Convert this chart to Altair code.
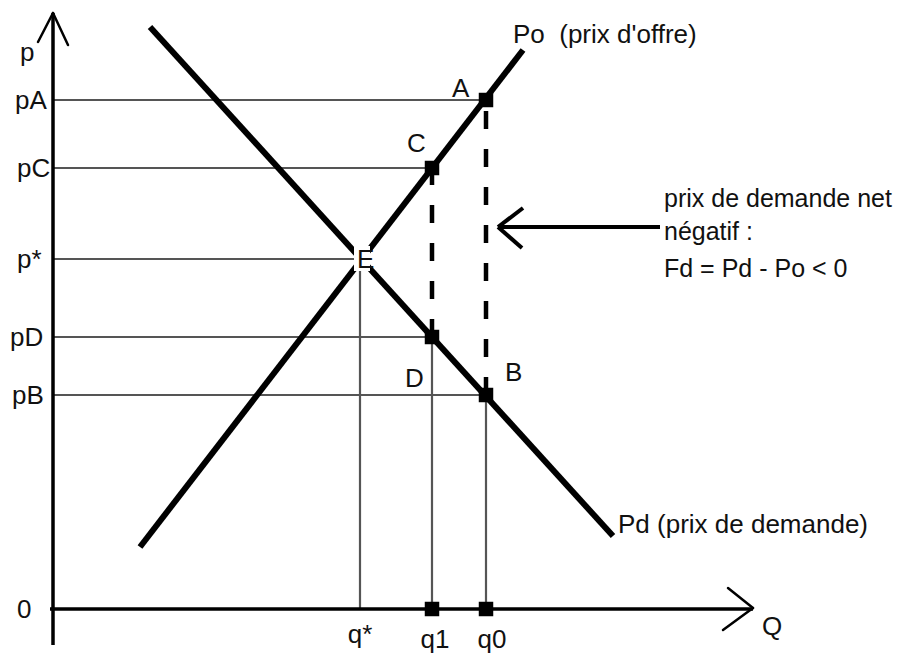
import altair as alt
import pandas as pd

# ---- data ----
# supply curve Po (prix d'offre) and demand curve Pd (prix de demande): endpoints
supply_q = [8.7, 47.0]
supply_p = [6.2, 55.9]
demand_q = [9.7, 56.0]
demand_p = [58.2, 7.3]

# named points
point_names = ["E", "A", "C", "D", "B"]
point_q = [30.7, 43.3, 37.9, 37.9, 43.3]
point_p = [35.0, 50.9, 44.1, 27.2, 21.4]

# price levels (horizontal guides) and their end quantity
price_labels = ["pA", "pC", "p*", "pD", "pB"]
price_values = [50.9, 44.1, 35.0, 27.2, 21.4]
price_end_q = [43.3, 37.9, 30.7, 37.9, 43.3]

# quantity levels (vertical guides) and their top price
qty_labels = ["q*", "q1", "q0"]
qty_values = [30.7, 37.9, 43.3]
qty_top_p = [35.0, 27.2, 21.4]

# dashed gaps (quantity, from price, to price)
gap_q = [37.9, 43.3]
gap_from = [27.2, 21.4]
gap_to = [44.1, 50.9]

# annotation lines
note_lines = ["prix de demande net", "négatif :", "Fd = Pd - Po < 0"]
note_base_p = [40.2, 36.9, 33.2]

# axis extents
q_axis_min, q_axis_max = -0.3, 70.0
p_axis_min, p_axis_max = -3.6, 59.6

X_DOM = [-4.5, 84.3]
Y_DOM = [-4.5, 60.1]
FONT = "Liberation Sans"
FS = 26

xs = alt.Scale(domain=X_DOM, nice=False, zero=False)
ys = alt.Scale(domain=Y_DOM, nice=False, zero=False)


def seg_df(rows):
    return pd.DataFrame(rows, columns=["x", "y", "x2", "y2"])


def rules(df, width, color="black", dash=None, cap="butt"):
    kw = dict(color=color, strokeWidth=width, strokeCap=cap)
    if dash:
        kw["strokeDash"] = dash
    return alt.Chart(df).mark_rule(**kw).encode(
        x=alt.X("x:Q", scale=xs, axis=None),
        y=alt.Y("y:Q", scale=ys, axis=None),
        x2="x2:Q",
        y2="y2:Q",
    )


# guides
guide_rows = [[0, v, e, v] for v, e in zip(price_values, price_end_q)]
guide_rows += [[q, 0, q, t] for q, t in zip(qty_values, qty_top_p)]
guides = rules(seg_df(guide_rows), 2.2, color="#555555")

# axes
axis_rows = [
    [0, p_axis_min, 0, p_axis_max],
    [q_axis_min, 0, q_axis_max, 0],
]
axes = rules(seg_df(axis_rows), 3.5)
head_rows = [
    [0, p_axis_max, -1.5, 56.7],
    [0, p_axis_max, 1.5, 56.4],
    [q_axis_max, 0.1, 67.5, 2.1],
    [q_axis_max, 0.1, 67.0, -2.1],
]
heads = rules(seg_df(head_rows), 2.5, cap="round")

# dashed gaps
gaps = rules(
    seg_df([[q, a, q, b] for q, a, b in zip(gap_q, gap_from, gap_to)]),
    4.5, dash=[18, 20],
)

# curves
curves = rules(
    seg_df([
        [supply_q[0], supply_p[0], supply_q[1], supply_p[1]],
        [demand_q[0], demand_p[0], demand_q[1], demand_p[1]],
    ]),
    6,
)

# white patch behind the label E at the intersection
e_box = pd.DataFrame({"x": [30.1], "x2": [31.7], "y": [33.8], "y2": [36.3]})
e_patch = alt.Chart(e_box).mark_rect(color="white").encode(
    x=alt.X("x:Q", scale=xs, axis=None),
    x2="x2:Q",
    y=alt.Y("y:Q", scale=ys, axis=None),
    y2="y2:Q",
)

# annotation arrow
arrow_tip = [44.5, 38.2]
arrow_tail = [60.7, 38.2]
arrow = rules(
    seg_df([
        [arrow_tip[0], arrow_tip[1], arrow_tail[0], arrow_tail[1]],
        [arrow_tip[0], arrow_tip[1], 47.0, 40.1],
        [arrow_tip[0], arrow_tip[1], 46.9, 36.1],
    ]),
    4,
)

# square markers
mark_q = point_q[1:] + gap_q
mark_p = point_p[1:] + [0, 0]
squares = alt.Chart(pd.DataFrame({"x": mark_q, "y": mark_p})).mark_square(
    size=210, color="black", opacity=1
).encode(x=alt.X("x:Q", scale=xs, axis=None), y=alt.Y("y:Q", scale=ys, axis=None))

# texts (baseline coordinates)
txt_rows = []
txt_rows.append(["p", -3.3, 54.8, "left"])
txt_rows.append(["Q", 70.9, -2.6, "left"])
txt_rows.append(["0", -3.6, -0.9, "left"])
price_label_left = [-3.8, -3.6, -3.6, -4.3, -4.1]
for lab, v, lx in zip(price_labels, price_values, price_label_left):
    txt_rows.append([lab, lx, v - 0.9, "left"])
qty_label_base = [-3.4, -3.9, -3.9]
qty_label_center = [30.7, 38.2, 43.9]
for lab, c, b in zip(qty_labels, qty_label_center, qty_label_base):
    txt_rows.append([lab, c, b, "center"])
point_label_q = [30.4, 39.9, 35.4, 35.2, 45.2]
point_label_p = [34.1, 51.2, 45.7, 22.2, 22.8]
for lab, q, p in zip(point_names, point_label_q, point_label_p):
    txt_rows.append([lab, q, p, "left"])
txt_rows.append(["Po\u00a0 (prix d'offre)", 46.0, 56.6, "left"])
txt_rows.append(["Pd (prix de demande)", 56.5, 7.6, "left"])

tdf = pd.DataFrame(txt_rows, columns=["t", "x", "y", "a"])
ndf = pd.DataFrame({"t": note_lines, "x": [61.1] * 3, "y": note_base_p})


def texts(df, align, size=FS):
    return alt.Chart(df).mark_text(
        align=align, baseline="alphabetic", font=FONT, fontSize=size, color="#111111"
    ).encode(
        x=alt.X("x:Q", scale=xs, axis=None),
        y=alt.Y("y:Q", scale=ys, axis=None),
        text="t:N",
    )


text_left = texts(tdf[tdf.a == "left"], "left")
text_center = texts(tdf[tdf.a == "center"], "center")
text_note = texts(ndf, "left", size=25)

chart = alt.layer(
    guides, axes, heads, gaps, curves, e_patch, arrow, squares,
    text_left, text_center, text_note
).properties(
    width=888,
    height=646,
    autosize=alt.AutoSizeParams(type="none"),
    padding=0,
    background="white",
).configure_view(stroke=None)

chart.save("out.html", embed_options={"renderer": "svg", "actions": False})
